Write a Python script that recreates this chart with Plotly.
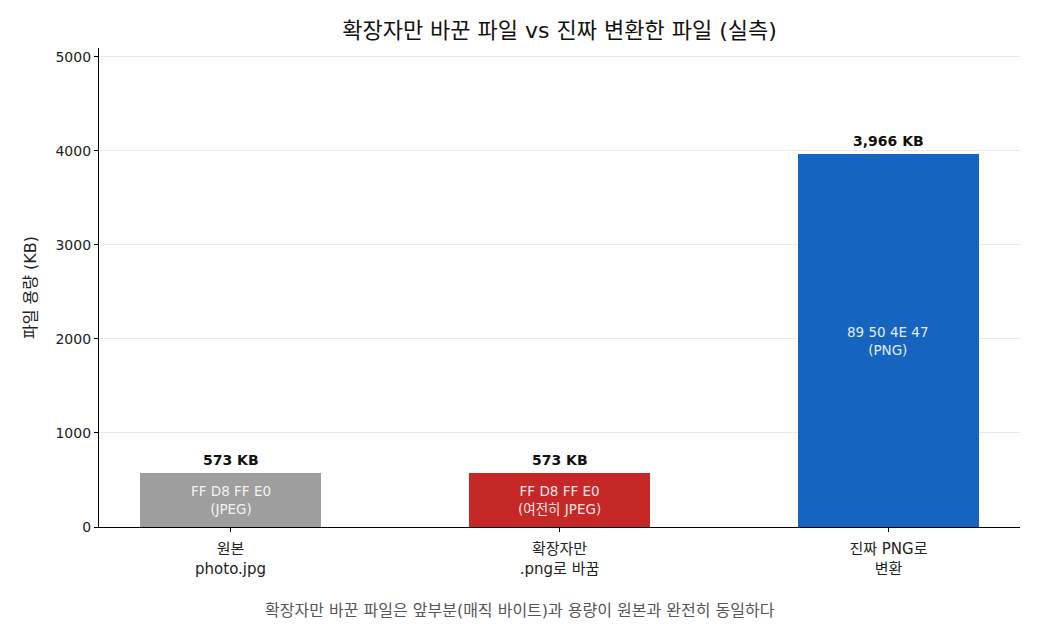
import plotly.graph_objects as go

categories = ["원본<br>photo.jpg", "확장자만<br>.png로 바꿈", "진짜 PNG로<br>변환"]
sizes_kb = [573, 573, 3966]
value_labels = ["573 KB", "573 KB", "3,966 KB"]
magic_labels = ["FF D8 FF E0<br>(JPEG)", "FF D8 FF E0<br>(여전히 JPEG)", "89 50 4E 47<br>(PNG)"]
colors = ["#9E9E9E", "#C62828", "#1565C0"]
y_ticks = [0, 1000, 2000, 3000, 4000, 5000]

FONT = "DejaVu Sans, Noto Sans CJK KR"
xs = list(range(len(categories)))

fig = go.Figure()
fig.add_trace(go.Bar(
    x=xs, y=sizes_kb, width=0.55,
    marker=dict(color=colors, line=dict(width=0)),
    hoverinfo="skip",
))

for i, (v, lab, mg) in enumerate(zip(sizes_kb, value_labels, magic_labels)):
    fig.add_annotation(x=i, y=v, text="<b>" + lab + "</b>", showarrow=False,
                       yanchor="bottom", yshift=3,
                       font=dict(family=FONT, size=14, color="#111111"))
    fig.add_annotation(x=i, y=v / 2, text=mg, showarrow=False,
                       yanchor="middle",
                       font=dict(family=FONT, size=13.5, color="rgba(255,255,255,0.9)"))

fig.add_annotation(x=0.457, y=-0.1733, xref="paper", yref="paper",
                   text="확장자만 바꾼 파일은 앞부분(매직 바이트)과 용량이 원본과 완전히 동일하다",
                   showarrow=False, yanchor="middle",
                   font=dict(family=FONT, size=16, color="#555555"))

fig.update_layout(
    width=1040, height=624,
    margin=dict(l=91, r=28, t=40, b=105),
    paper_bgcolor="white", plot_bgcolor="white",
    showlegend=False,
    bargap=0,
    title=dict(text="확장자만 바꾼 파일 vs 진짜 변환한 파일 (실측)",
               xref="paper", x=0.5, xanchor="center", y=0.9647, yanchor="middle",
               font=dict(family=FONT, size=22, color="#111111")),
    font=dict(family=FONT, size=14, color="#222222"),
)

fig.update_xaxes(
    range=[-0.4, 2.4], tickmode="array", tickvals=xs, ticktext=categories,
    showline=True, linecolor="black", linewidth=1.2,
    ticks="outside", ticklen=4, tickcolor="black",
    showgrid=False, zeroline=False, ticklabelstandoff=4,
    tickfont=dict(family=FONT, size=15, color="#222222"),
)
fig.update_yaxes(
    range=[0, 5095], tickmode="array", tickvals=y_ticks,
    showline=True, linecolor="black", linewidth=1.2,
    ticks="outside", ticklen=4, tickcolor="black",
    showgrid=True, gridcolor="rgba(190,190,190,0.32)", gridwidth=1,
    zeroline=False, layer="above traces",
    title=dict(text="파일 용량 (KB)", font=dict(family=FONT, size=16, color="#222222"), standoff=14),
    tickfont=dict(family=FONT, size=14, color="#222222"),
)

fig.write_html("out.html")
